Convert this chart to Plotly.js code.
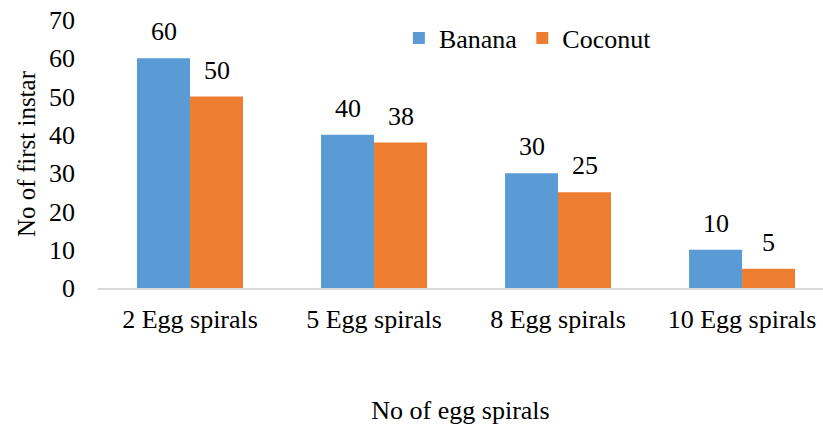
<!DOCTYPE html>
<html>
<head>
<meta charset="utf-8">
<script src="https://cdn.plot.ly/plotly-3.0.1.min.js"></script>
<style>html,body{margin:0;padding:0;background:#fff}#chart{width:823px;height:426px}</style>
</head>
<body>
<div id="chart"></div>
<script>
// Number of first instar larvae per egg-spiral group, on two host plants
const categories = ['2 Egg spirals', '5 Egg spirals', '8 Egg spirals', '10 Egg spirals'];
const banana = [60, 40, 30, 10];
const coconut = [50, 38, 25, 5];
const yTicks = [0, 10, 20, 30, 40, 50, 60, 70];

const FONT = "'Liberation Serif', 'Times New Roman', serif";
const SIZE = 26;
const BLUE = '#5B9BD5';
const ORANGE = '#ED7D31';
const idx = categories.map((_, i) => i);

const traces = [
  {type: 'bar', name: 'Banana', x: idx, y: banana, marker: {color: BLUE}, hoverinfo: 'y'},
  {type: 'bar', name: 'Coconut', x: idx, y: coconut, marker: {color: ORANGE}, hoverinfo: 'y'}
];

// value labels above each bar, offset to the bar's half of the group
const gap = 0.424;
const half = (1 - gap) / 4;
const annotations = [];
[[banana, -half], [coconut, half]].forEach(([vals, off]) => {
  vals.forEach((v, i) => annotations.push({
    x: i + off, y: v, xref: 'x', yref: 'y', text: String(v),
    showarrow: false, yanchor: 'bottom', yshift: 10,
    font: {family: FONT, size: SIZE, color: '#000'}
  }));
});

const layout = {
  width: 823, height: 426,
  margin: {l: 98, r: 0, t: 20, b: 138},
  paper_bgcolor: '#fff', plot_bgcolor: '#fff',
  font: {family: FONT, size: SIZE, color: '#000'},
  barmode: 'group', bargap: gap, bargroupgap: 0,
  showlegend: true,
  legend: {orientation: 'h', x: 0.415, xanchor: 'left', y: 1.02, yanchor: 'top',
           font: {family: FONT, size: SIZE}, bgcolor: 'rgba(0,0,0,0)', itemwidth: 30},
  xaxis: {
    range: [-0.5, 3.44], tickmode: 'array', tickvals: idx, ticktext: categories,
    showline: true, linecolor: '#d9d9d9', linewidth: 2, showgrid: false, zeroline: false,
    ticks: '', ticklen: 0, ticklabelstandoff: 7, tickfont: {family: FONT, size: SIZE},
    title: {text: 'No of egg spirals', font: {family: FONT, size: SIZE}, standoff: 68}
  },
  yaxis: {
    range: [0, 70], tickmode: 'array', tickvals: yTicks, showgrid: false, zeroline: false,
    showline: false, ticks: '', ticklabelstandoff: 22, tickfont: {family: FONT, size: SIZE},
    title: {text: 'No of first instar', font: {family: FONT, size: 25}, standoff: 6}
  },
  annotations: annotations
};

Plotly.newPlot('chart', traces, layout, {displayModeBar: false, staticPlot: true});
</script>
</body>
</html>
